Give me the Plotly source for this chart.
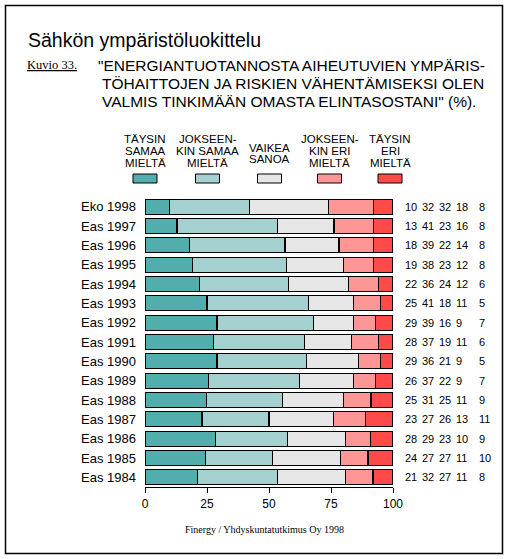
import plotly.graph_objects as go

categories = ["Eko 1998", "Eas 1997", "Eas 1996", "Eas 1995", "Eas 1994", "Eas 1993",
              "Eas 1992", "Eas 1991", "Eas 1990", "Eas 1989", "Eas 1988", "Eas 1987",
              "Eas 1986", "Eas 1985", "Eas 1984"]
taysin_samaa = [10, 13, 18, 19, 22, 25, 29, 28, 29, 26, 25, 23, 28, 24, 21]
jokseenkin_samaa = [32, 41, 39, 38, 36, 41, 39, 37, 36, 37, 31, 27, 29, 27, 32]
vaikea_sanoa = [32, 23, 22, 23, 24, 18, 16, 19, 21, 22, 25, 26, 23, 27, 27]
jokseenkin_eri = [18, 16, 14, 12, 12, 11, 9, 11, 9, 9, 11, 13, 10, 11, 11]
taysin_eri = [8, 8, 8, 8, 6, 5, 7, 6, 5, 7, 9, 11, 9, 10, 8]

series = [taysin_samaa, jokseenkin_samaa, vaikea_sanoa, jokseenkin_eri, taysin_eri]
series_labels = [["TÄYSIN", "SAMAA", "MIELTÄ"], ["JOKSEEN-", "KIN SAMAA", "MIELTÄ"],
                 ["VAIKEA", "SANOA"], ["JOKSEEN-", "KIN ERI", "MIELTÄ"], ["TÄYSIN", "ERI", "MIELTÄ"]]
colors = ["#52AEAD", "#A5D0D0", "#E6E6E6", "#FF9696", "#FF4A4A"]
tick_vals = [0, 25, 50, 75, 100]

W, H = 509, 559
L, R, T, B = 145, 116, 197, 72
PW, PH = W - L - R, H - T - B

def px(x):
    return (x - L) / PW

def py(y):
    return (H - B - y) / PH

FONT = "Liberation Sans"

fig = go.Figure()
for vals, lab, col in zip(series, series_labels, colors):
    fig.add_trace(go.Bar(
        y=categories, x=vals, orientation="h", name=" ".join(lab),
        marker=dict(color=col, line=dict(color="black", width=1.2)),
        width=0.78, showlegend=False, hoverinfo="x+y"))

annotations = []
shapes = []

# value columns at right
col_x = [403, 420, 437, 454, 477]
for j, vals in enumerate(series):
    for cat, v in zip(categories, vals):
        annotations.append(dict(x=px(col_x[j]), xref="paper", y=cat, yref="y",
                                text=str(v), showarrow=False, xanchor="left",
                                yanchor="middle", font=dict(family=FONT, size=11, color="black")))

# custom legend
centers = [145, 207.5, 269.5, 329.5, 390]
for c, lab, col in zip(centers, series_labels, colors):
    ys = [138.5, 151, 163.5] if len(lab) == 3 else [147.5, 159.5]
    for line, yy in zip(lab, ys):
        annotations.append(dict(x=px(c), xref="paper", y=py(yy), yref="paper",
                                text=line, showarrow=False, xanchor="center", yanchor="middle",
                                font=dict(family=FONT, size=11.5, color="black")))
    shapes.append(dict(type="rect", xref="paper", yref="paper",
                       x0=px(c - 12), x1=px(c + 12), y0=py(183), y1=py(174),
                       fillcolor=col, line=dict(color="black", width=1)))

# titles
annotations.append(dict(x=px(26), xref="paper", y=py(40), yref="paper",
                        text="Sähkön ympäristöluokittelu", showarrow=False,
                        xanchor="left", yanchor="middle",
                        font=dict(family=FONT, size=19.5, color="black")))
annotations.append(dict(x=px(25), xref="paper", y=py(65), yref="paper",
                        text="<u>Kuvio 33.</u>", showarrow=False,
                        xanchor="left", yanchor="middle",
                        font=dict(family="Liberation Serif", size=12.5, color="black")))
quote_lines = ["\"ENERGIANTUOTANNOSTA AIHEUTUVIEN YMPÄRIS-",
               "TÖHAITTOJEN JA RISKIEN VÄHENTÄMISEKSI OLEN",
               "VALMIS TINKIMÄÄN OMASTA ELINTASOSTANI\" (%)."]
for line, xx, yy in zip(quote_lines, [96, 100, 100], [65, 83.5, 102]):
    annotations.append(dict(x=px(xx), xref="paper", y=py(yy), yref="paper",
                            text=line, showarrow=False, xanchor="left", yanchor="middle",
                            font=dict(family=FONT, size=15.5, color="black")))
annotations.append(dict(x=px(264), xref="paper", y=py(529), yref="paper",
                        text="Finergy / Yhdyskuntatutkimus Oy 1998", showarrow=False,
                        xanchor="center", yanchor="middle",
                        font=dict(family="Liberation Serif", size=10, color="black")))

# outer frame
shapes.append(dict(type="rect", xref="paper", yref="paper",
                   x0=px(5.5), x1=px(502.5), y0=py(553.5), y1=py(5.5),
                   line=dict(color="black", width=1.5), fillcolor="rgba(0,0,0,0)", layer="above"))

fig.update_layout(
    width=W, height=H,
    margin=dict(l=L, r=R, t=T, b=B, autoexpand=False),
    barmode="stack", barnorm="percent",
    plot_bgcolor="white", paper_bgcolor="white",
    font=dict(family=FONT, color="black"),
    xaxis=dict(range=[0, 100], tickvals=tick_vals, ticktext=[str(v) for v in tick_vals],
               showline=True, linecolor="black", linewidth=1.2, ticks="outside",
               ticklen=5, tickcolor="black", showgrid=False, zeroline=False,
               tickfont=dict(family=FONT, size=12, color="black")),
    yaxis=dict(categoryorder="array", categoryarray=categories, autorange="reversed",
               showline=False, showgrid=False, zeroline=False, ticks="",
               ticklabelstandoff=8,
               tickfont=dict(family=FONT, size=13, color="black")),
    annotations=annotations, shapes=shapes,
)

fig.write_html("out.html", config={"displayModeBar": False},
               post_script="document.body.style.margin='0';document.body.style.overflow='hidden';")
